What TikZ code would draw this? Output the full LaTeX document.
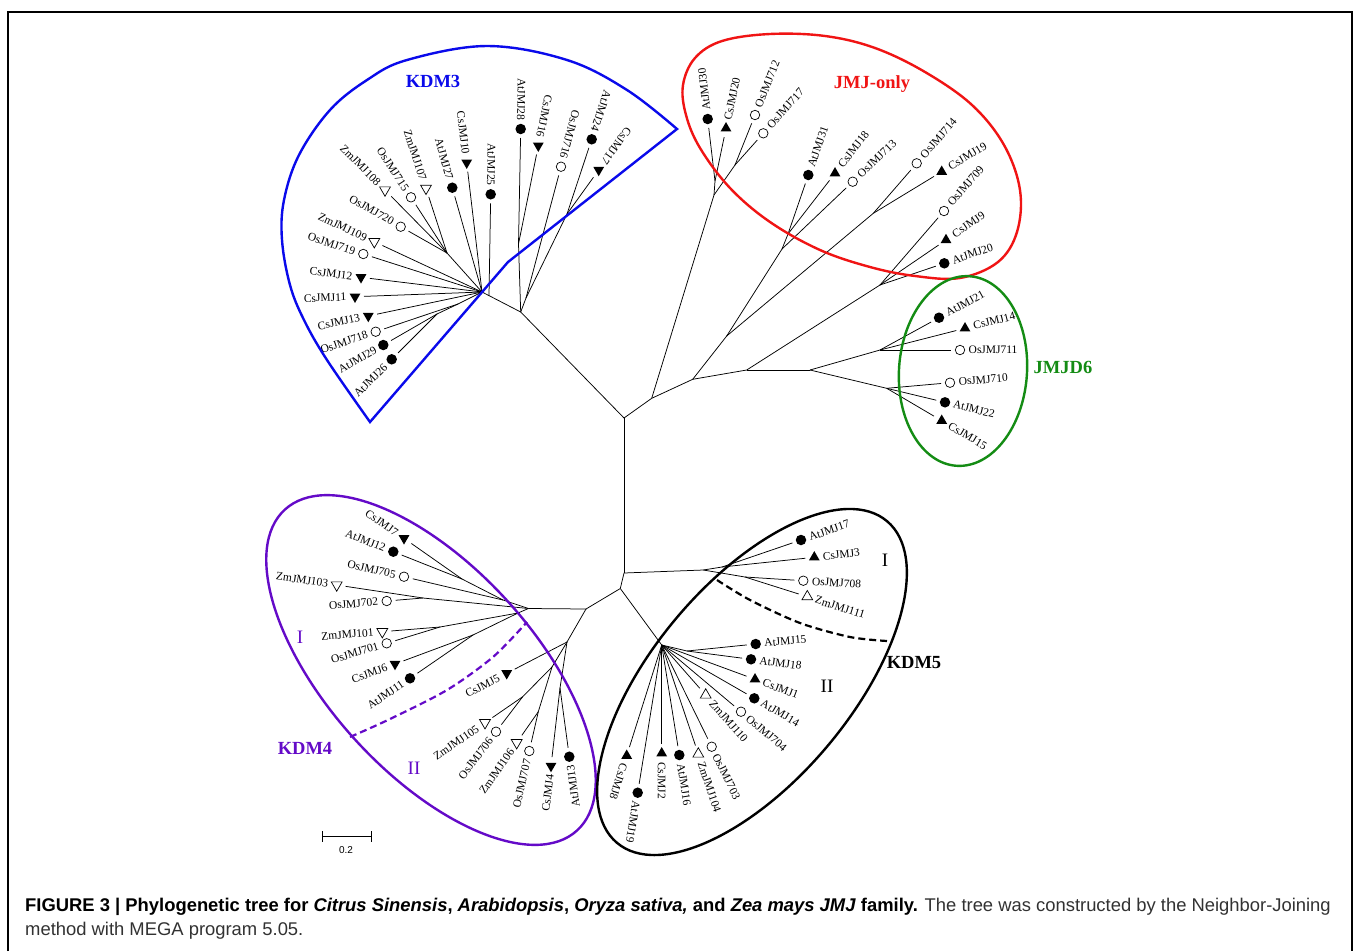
\documentclass[tikz,border=0pt]{standalone}
\usepackage{fontspec}
\setmainfont{Liberation Serif}
\newfontfamily\capfont{Liberation Sans}
\usetikzlibrary{calc,shapes.geometric}
\definecolor{kblue}{RGB}{10,10,235}
\definecolor{kred}{RGB}{240,20,20}
\definecolor{kgreen}{RGB}{20,140,20}
\definecolor{kpurp}{RGB}{100,10,200}
\definecolor{capgray}{RGB}{50,50,50}
\newdimen\lfx
\tikzset{
 br/.style={line width=0.75pt, black},
 mkdot/.style={circle, fill=black, inner sep=0pt, minimum size=10.5pt},
 mkcirc/.style={circle, draw=black, line width=0.7pt, inner sep=0pt, minimum size=9.5pt},
 mktri/.style={regular polygon, regular polygon sides=3, fill=black, inner sep=0pt, minimum size=12.5pt},
 mkotri/.style={regular polygon, regular polygon sides=3, draw=black, line width=0.7pt, inner sep=0pt, minimum size=12.5pt},
 lbl/.style={font=\fontsize{11.5}{13}\selectfont, inner sep=0pt},
 grp/.style={font=\fontsize{18.5}{20}\selectfont\bfseries},
 rom/.style={font=\fontsize{19}{20}\selectfont},
 outl/.style={line width=2.4pt},
 capt/.style={anchor=base west, inner sep=0pt, font=\capfont\fontsize{18.4}{22}\selectfont},
}
% leaf: #1 parent, #2 position, #3 marker, #4 label/name
\newcommand\lf[4]{%
  \coordinate (#4-c) at (#2);
  \pgfmathanglebetweenpoints{\pgfpointanchor{#1}{center}}{\pgfpointanchor{#4-c}{center}}%
  \let\lfang\pgfmathresult
  \pgfextractx{\lfx}{\pgfpointanchor{#4-c}{center}}%
  \ifdim\lfx<615pt
    \pgfmathsetmacro\lfrot{\lfang-180}\def\lfanc{east}\def\lfbr{180}%
  \else
    \pgfmathsetmacro\lfrot{\lfang}\def\lfanc{west}\def\lfbr{0}%
  \fi
  \node[mk#3, shape border rotate=\lfbr] (#4) at (#4-c) {};
  \draw[br] (#1) -- ($(#4-c)+(\lfang+180:9)$);
  \node[lbl, rotate=\lfrot, anchor=\lfanc] (#4-l) at ($(#4-c)+(\lfang:8.5)$) {#4};
}
\begin{document}
\begin{tikzpicture}[x=1pt,y=1pt]
\useasboundingbox (0,0) rectangle (1360,-951);
\fill[white] (0,0) rectangle (1360,-951);
\draw[line width=1.3pt] (8,-951) -- (8,-12) -- (1352,-12) -- (1352,-951);
% internal nodes
\coordinate (c0) at (624,-418);
\coordinate (cB) at (624,-573);
\coordinate (cC) at (620.3,-588.5);
\coordinate (topL) at (520.7,-312);
\coordinate (k4) at (489,-295.6);
\coordinate (k0) at (482,-292);
\coordinate (k1) at (447,-253);
\coordinate (k3b) at (458,-304);
\coordinate (k3) at (437,-314);
\coordinate (j1) at (518.5,-244);
\coordinate (j2) at (526,-298);
\coordinate (j3) at (567,-214);
\coordinate (r0) at (651.7,-398.3);
\coordinate (g1) at (714,-195);
\coordinate (g2) at (715,-181);
\coordinate (g3) at (735,-165);
\coordinate (r1) at (692.7,-379.3);
\coordinate (g4) at (726.7,-336);
\coordinate (g5) at (782,-249);
\coordinate (g5a) at (788,-234);
\coordinate (g7) at (873.3,-213.3);
\coordinate (r2) at (746.7,-370);
\coordinate (g8) at (880,-285);
\coordinate (d0) at (810,-370);
\coordinate (d1) at (880,-350);
\coordinate (d2) at (886.7,-388.3);
\coordinate (k4top) at (586,-609);
\coordinate (k4I) at (528.5,-608.5);
\coordinate (kA) at (503,-600);
\coordinate (kA1) at (462,-579);
\coordinate (kB) at (423,-598);
\coordinate (kE) at (518,-613);
\coordinate (kC) at (440,-627);
\coordinate (kD) at (473,-635);
\coordinate (k4II) at (567,-642);
\coordinate (kI) at (552,-667);
\coordinate (kF) at (522.7,-696.7);
\coordinate (kG) at (538.3,-711.7);
\coordinate (kH) at (560,-688);
\coordinate (k5I) at (703.3,-570);
\coordinate (k5a) at (722,-567);
\coordinate (k5b) at (745,-577);
\coordinate (k5II) at (661.7,-645);
\coordinate (k5c) at (687,-651);
% internal branches
\draw[br] (c0) -- (cB);
\draw[br] (c0) -- (topL);
\draw[br] (c0) -- (r0);
\draw[br] (cB) -- (cC);
\draw[br] (cB) -- (k5I);
\draw[br] (cC) -- (k4top);
\draw[br] (cC) -- (k5II);
\draw[br] (k4top) -- (k4I);
\draw[br] (k4top) -- (k4II);
\draw[br] (topL) -- (k4) -- (k0);
\draw[br] (topL) -- (j1);
\draw[br] (topL) -- (j2);
\draw[br] (j2) -- (j3);
\draw[br] (k0) -- (k1);
\draw[br] (k0) -- (k3b);
\draw[br] (k3b) -- (k3);
\draw[br] (r0) -- (g1);
\draw[br] (g1) -- (g2);
\draw[br] (g1) -- (g3);
\draw[br] (r0) -- (r1);
\draw[br] (r1) -- (g4);
\draw[br] (g4) -- (g5);
\draw[br] (g5) -- (g5a);
\draw[br] (g4) -- (g7);
\draw[br] (r1) -- (r2);
\draw[br] (r2) -- (g8);
\draw[br] (r2) -- (d0);
\draw[br] (d0) -- (d1);
\draw[br] (d0) -- (d2);
\draw[br] (k4I) -- (kA);
\draw[br] (kA) -- (kA1);
\draw[br] (k4I) -- (kB);
\draw[br] (k4I) -- (kE);
\draw[br] (kE) -- (kC);
\draw[br] (kE) -- (kD);
\draw[br] (k4II) -- (kI);
\draw[br] (kI) -- (kF);
\draw[br] (kI) -- (kG);
\draw[br] (k4II) -- (kH);
\draw[br] (k5I) -- (k5a);
\draw[br] (k5I) -- (k5b);
\draw[br] (k5II) -- (k5c);
% KDM3
\lf{k1}{385,-190}{otri}{ZmJMJ108}
\lf{k1}{411,-197.3}{circ}{OsJMJ715}
\lf{k1}{426,-188.3}{otri}{ZmJMJ107}
\lf{k1}{400.7,-226.7}{circ}{OsJMJ720}
\lf{k0}{452.3,-187.7}{dot}{AtJMJ27}
\lf{k0}{466.7,-162.7}{tri}{CsJMJ10}
\lf{k4}{490.7,-194.3}{dot}{AtJMJ25}
\lf{k0}{374.3,-241.7}{otri}{ZmJMJ109}
\lf{k0}{363.3,-254}{circ}{OsJMJ719}
\lf{k0}{361,-277.3}{tri}{CsJMJ12}
\lf{k0}{355,-296.7}{tri}{CsJMJ11}
\lf{k0}{368.3,-316}{tri}{CsJMJ13}
\lf{k3b}{375.7,-331.7}{circ}{OsJMJ718}
\lf{k3}{383.3,-345}{dot}{AtJMJ29}
\lf{k3}{391.7,-359.3}{dot}{AtJMJ26}
\lf{j1}{520.7,-129}{dot}{AtJMJ28}
\lf{j1}{538.3,-145.7}{tri}{CsJMJ16}
\lf{j2}{561,-166.7}{circ}{OsJMJ716}
\lf{j3}{591.7,-139.3}{dot}{AtJMJ24}
\lf{j3}{598.7,-170}{tri}{CsJMJ17}
% JMJ-only
\lf{g2}{707.7,-119}{dot}{AtJMJ30}
\lf{g2}{726,-128.3}{tri}{CsJMJ20}
\lf{g3}{755,-115}{circ}{OsJMJ712}
\lf{g3}{763.3,-133.3}{circ}{OsJMJ717}
\lf{g5a}{808.3,-175}{dot}{AtJMJ31}
\lf{g5a}{835,-173.3}{tri}{CsJMJ18}
\lf{g5}{852.7,-181.7}{circ}{OsJMJ713}
\lf{g7}{916.7,-163.3}{circ}{OsJMJ714}
\lf{g7}{941.7,-171.7}{tri}{CsJMJ19}
\lf{g8}{944,-211}{circ}{OsJMJ709}
\lf{g8}{946,-240}{tri}{CsJMJ9}
\lf{g8}{944.3,-263.3}{dot}{AtJMJ20}
% JMJD6
\lf{d1}{939,-317.7}{dot}{AtJMJ21}
\lf{d1}{965,-328.3}{tri}{CsJMJ14}
\lf{d1}{960,-350}{circ}{OsJMJ711}
\lf{d2}{950,-382.7}{circ}{OsJMJ710}
\lf{d2}{945,-402.3}{dot}{AtJMJ22}
\lf{d2}{941.7,-420.7}{tri}{CsJMJ15}
% KDM4
\lf{kA1}{404,-538.3}{tri}{CsJMJ7}
\lf{kA1}{393.3,-551.7}{dot}{AtJMJ12}
\lf{kA}{404,-576.7}{circ}{OsJMJ705}
\lf{kB}{336.7,-585}{otri}{ZmJMJ103}
\lf{kB}{386.7,-601}{circ}{OsJMJ702}
\lf{kC}{382.3,-631.7}{otri}{ZmJMJ101}
\lf{kC}{386.7,-643.3}{circ}{OsJMJ701}
\lf{kD}{395,-664}{tri}{CsJMJ6}
\lf{kD}{410,-678.3}{dot}{AtJMJ11}
\lf{k4II}{506.7,-673.3}{tri}{CsJMJ5}
\lf{kF}{485,-722.7}{otri}{ZmJMJ105}
\lf{kF}{496,-731.7}{circ}{OsJMJ706}
\lf{kG}{516.7,-742.7}{otri}{ZmJMJ106}
\lf{kG}{529.3,-751}{circ}{OsJMJ707}
\lf{kH}{551,-766}{tri}{CsJMJ4}
\lf{kH}{569.3,-756.7}{dot}{AtJMJ13}
% KDM5
\lf{k5a}{801,-540}{dot}{AtJMJ17}
\lf{k5a}{814.3,-557.3}{tri}{CsJMJ3}
\lf{k5b}{803.3,-580.7}{circ}{OsJMJ708}
\lf{k5b}{807.3,-596.7}{otri}{ZmJMJ111}
\lf{k5c}{755.7,-644}{dot}{AtJMJ15}
\lf{k5c}{751,-659.3}{dot}{AtJMJ18}
\lf{k5II}{755,-679.3}{tri}{CsJMJ1}
\lf{k5II}{754.3,-698.3}{dot}{AtJMJ14}
\lf{k5II}{741,-711.7}{circ}{OsJMJ704}
\lf{k5II}{705.7,-695}{otri}{ZmJMJ110}
\lf{k5II}{711.7,-746.7}{circ}{OsJMJ703}
\lf{k5II}{698.3,-754}{otri}{ZmJMJ104}
\lf{k5II}{679.3,-755}{dot}{AtJMJ16}
\lf{k5II}{661.7,-753.3}{tri}{CsJMJ2}
\lf{k5II}{626.7,-755.7}{tri}{CsJMJ8}
\lf{k5II}{637.7,-792.7}{dot}{AtJMJ19}
% outlines
\draw[kblue, outl, line join=miter] (370,-422) -- (508,-262) -- plot[smooth, tension=0.6] coordinates {(677,-129) (627,-90) (567,-60) (487,-46) (407,-60) (367,-80) (330,-110) (299,-155) (284,-200) (282,-240) (290,-285) (304,-320) (327,-360) (370,-422)} -- cycle;
\draw[kred, outl] plot[smooth cycle, tension=0.6] coordinates {(683,-85) (695,-58) (722,-41) (770,-34) (825,-36) (875,-48) (925,-72) (972,-105) (1004,-145) (1020,-190) (1017,-232) (998,-262) (960,-278) (915,-276) (870,-267) (820,-250) (770,-222) (730,-188) (700,-148) (686,-115)};
\draw[kgreen, outl, rotate around={-4:(963,-371)}] (963,-371) ellipse[x radius=64, y radius=95];
\draw[kpurp, outl, rotate around={-47.7:(431,-670)}] (431,-670) ellipse[x radius=217, y radius=103];
\draw[black, outl, rotate around={50:(752,-682)}] (752,-682) ellipse[x radius=210, y radius=99];
\draw[kpurp, line width=2.2pt, dash pattern=on 7pt off 4pt] plot[smooth] coordinates {(350,-737) (390,-719) (447,-690) (493,-657) (527,-622)};
\draw[black, line width=2.2pt, dash pattern=on 7pt off 4pt] plot[smooth] coordinates {(717,-580) (750,-600) (800,-623) (850,-637) (887,-641)};
% group labels
\node[grp, kblue] (lKDM3) at (433,-81) {KDM3};
\node[grp, kred] (lJMJ) at (872,-84) {JMJ-only};
\node[grp, kgreen] (lJMJD6) at (1063,-367) {JMJD6};
\node[grp, kpurp] (lKDM4) at (305,-748) {KDM4};
\node[grp] (lKDM5) at (914,-663) {KDM5};
\node[rom, kpurp] (r4I) at (300,-637) {I};
\node[rom, kpurp] (r4II) at (414,-768) {II};
\node[rom] (r5I) at (885,-560) {I};
\node[rom] (r5II) at (827,-686) {II};
% scale bar
\coordinate (sbL) at (322,-836);
\coordinate (sbR) at (371,-836);
\draw[line width=0.8pt] (sbL) -- (sbR);
\draw[line width=0.8pt] ($(sbL)+(0,5)$) -- ($(sbL)+(0,-6)$);
\draw[line width=0.8pt] ($(sbR)+(0,5)$) -- ($(sbR)+(0,-6)$);
\node[font=\capfont\fontsize{10}{12}\selectfont] (sbT) at (346,-850) {0.2};
% caption
\node[capt] (cap1) at (25,-911) {\textbf{FIGURE 3 | Phylogenetic tree for \textit{Citrus Sinensis}, \textit{Arabidopsis}, \textit{Oryza sativa,} and \textit{Zea mays JMJ} family.} \textcolor{capgray}{The tree was constructed by the Neighbor-Joining}};
\node[capt, text=capgray] (cap2) at (25,-935) {method with MEGA program 5.05.};
\end{tikzpicture}
\end{document}
